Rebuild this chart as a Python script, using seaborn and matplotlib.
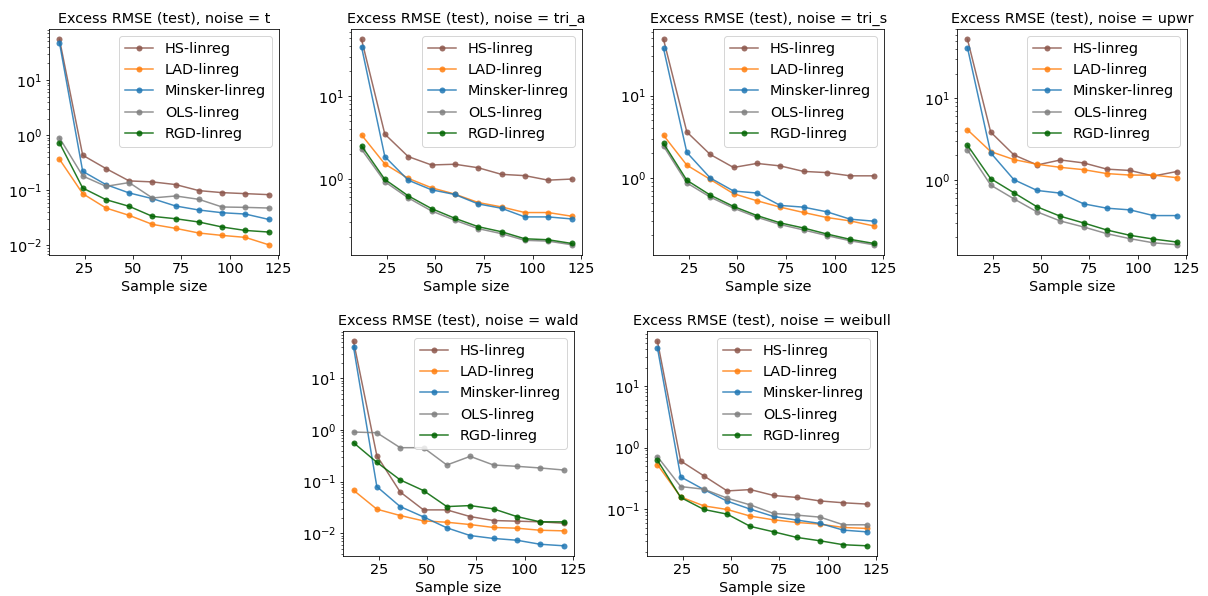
import matplotlib
matplotlib.use("Agg")
import matplotlib.pyplot as plt
import seaborn as sns
import pandas as pd

sample_sizes = [12, 24, 36, 48, 60, 72, 84, 96, 108, 120]
methods = ["HS-linreg", "LAD-linreg", "Minsker-linreg", "OLS-linreg", "RGD-linreg"]
colors = ["#8c564b", "#ff7f0e", "#1f77b4", "#7f7f7f", "#006400"]
noises = ["t", "tri_a", "tri_s", "upwr", "wald", "weibull"]

# ── excess RMSE per noise type, one list per method ─────────────────────────
t_hs = [54.8, 0.433, 0.248, 0.148, 0.142, 0.127, 0.0987, 0.0907, 0.087, 0.0834]
t_lad = [0.366, 0.087, 0.0477, 0.0351, 0.0241, 0.0204, 0.0168, 0.0152, 0.0140, 0.0103]
t_min = [47.7, 0.221, 0.127, 0.0895, 0.0706, 0.0519, 0.0439, 0.0392, 0.0371, 0.0297]
t_ols = [0.895, 0.182, 0.118, 0.138, 0.0726, 0.0789, 0.0686, 0.0498, 0.049, 0.0477]
t_rgd = [0.726, 0.110, 0.0677, 0.0512, 0.0337, 0.0305, 0.0266, 0.0216, 0.0187, 0.0175]

tria_hs = [48.8, 3.49, 1.87, 1.48, 1.51, 1.37, 1.14, 1.10, 0.97, 1.0]
tria_lad = [3.42, 1.52, 1.02, 0.785, 0.658, 0.521, 0.461, 0.394, 0.394, 0.356]
tria_min = [39.7, 1.87, 0.97, 0.742, 0.651, 0.501, 0.444, 0.349, 0.349, 0.330]
tria_ols = [2.29, 0.928, 0.593, 0.412, 0.318, 0.252, 0.219, 0.182, 0.178, 0.161]
tria_rgd = [2.52, 0.99, 0.628, 0.440, 0.336, 0.266, 0.231, 0.190, 0.185, 0.167]

tris_hs = [48.5, 3.62, 1.93, 1.34, 1.50, 1.40, 1.20, 1.16, 1.06, 1.06]
tris_lad = [3.30, 1.43, 0.96, 0.643, 0.528, 0.441, 0.380, 0.330, 0.300, 0.261]
tris_min = [37.6, 2.04, 1.0, 0.693, 0.655, 0.463, 0.441, 0.387, 0.315, 0.298]
tris_ols = [2.44, 0.869, 0.585, 0.429, 0.333, 0.271, 0.233, 0.199, 0.172, 0.154]
tris_rgd = [2.63, 0.936, 0.619, 0.450, 0.349, 0.284, 0.246, 0.208, 0.179, 0.160]

upwr_hs = [52.6, 3.86, 2.03, 1.53, 1.76, 1.62, 1.36, 1.31, 1.12, 1.27]
upwr_lad = [4.12, 2.23, 1.78, 1.56, 1.43, 1.34, 1.20, 1.15, 1.15, 1.07]
upwr_min = [41.6, 2.15, 1.01, 0.746, 0.692, 0.512, 0.453, 0.432, 0.368, 0.368]
upwr_ols = [2.34, 0.868, 0.589, 0.408, 0.316, 0.267, 0.221, 0.192, 0.171, 0.162]
upwr_rgd = [2.67, 1.04, 0.699, 0.470, 0.361, 0.299, 0.245, 0.211, 0.190, 0.175]

wald_hs = [52.8, 0.319, 0.063, 0.0283, 0.0283, 0.0210, 0.0176, 0.0171, 0.0166, 0.0156]
wald_lad = [0.068, 0.0292, 0.0220, 0.0173, 0.0163, 0.0147, 0.0129, 0.0125, 0.0114, 0.0111]
wald_min = [41.0, 0.080, 0.0328, 0.0207, 0.0127, 0.0090, 0.0079, 0.0073, 0.0061, 0.0057]
wald_ols = [0.915, 0.888, 0.455, 0.455, 0.210, 0.309, 0.210, 0.198, 0.184, 0.168]
wald_rgd = [0.569, 0.237, 0.108, 0.067, 0.0328, 0.0343, 0.0296, 0.0210, 0.0166, 0.0166]

weib_hs = [53.7, 0.608, 0.347, 0.198, 0.208, 0.167, 0.155, 0.136, 0.127, 0.121]
weib_lad = [0.530, 0.158, 0.113, 0.0988, 0.0770, 0.0671, 0.0608, 0.0571, 0.0504, 0.0486]
weib_min = [41.8, 0.335, 0.208, 0.135, 0.100, 0.076, 0.0664, 0.0586, 0.0456, 0.0428]
weib_ols = [0.714, 0.233, 0.211, 0.151, 0.117, 0.0851, 0.080, 0.0742, 0.0557, 0.0557]
weib_rgd = [0.623, 0.155, 0.0988, 0.083, 0.0524, 0.0428, 0.0347, 0.0306, 0.0264, 0.0254]

series = {
    "t": [t_hs, t_lad, t_min, t_ols, t_rgd],
    "tri_a": [tria_hs, tria_lad, tria_min, tria_ols, tria_rgd],
    "tri_s": [tris_hs, tris_lad, tris_min, tris_ols, tris_rgd],
    "upwr": [upwr_hs, upwr_lad, upwr_min, upwr_ols, upwr_rgd],
    "wald": [wald_hs, wald_lad, wald_min, wald_ols, wald_rgd],
    "weibull": [weib_hs, weib_lad, weib_min, weib_ols, weib_rgd],
}

rows = []
for noise in noises:
    for m, vals in zip(methods, series[noise]):
        for n, v in zip(sample_sizes, vals):
            rows.append({"noise": noise, "method": m, "n": n, "rmse": v})
df = pd.DataFrame(rows)

plt.rcParams["font.size"] = 14.4
plt.rcParams["axes.titlesize"] = 14.4
W, H = 1208, 596
DPI = 72
fig = plt.figure(figsize=(W / DPI, H / DPI), dpi=DPI)

# axes boxes in pixels: left, top, right, bottom
boxes = [(49, 29, 279, 255), (351, 29, 582, 255), (653, 29, 884, 255),
         (957, 29, 1187, 255), (343, 331, 574, 556), (647, 331, 877, 556)]

palette = dict(zip(methods, colors))
for noise, (l, t, r, b) in zip(noises, boxes):
    ax = fig.add_axes([l / W, 1 - b / H, (r - l) / W, (b - t) / H])
    sub = df[df["noise"] == noise]
    sns.lineplot(data=sub, x="n", y="rmse", hue="method", hue_order=methods,
                 palette=palette, marker="o", markersize=6, markeredgewidth=0,
                 linewidth=1.5, alpha=0.85, ax=ax)
    ax.set_yscale("log")
    ax.set_xticks([25, 50, 75, 100, 125])
    ax.set_xlim(6.6, 125.4)
    ax.set_xlabel("Sample size")
    ax.set_ylabel("")
    ax.set_title(f"Excess RMSE (test), noise = {noise}")
    sns.move_legend(ax, "upper right", title=None, frameon=True)

plt.savefig("out.png", dpi=DPI)
plt.close()
